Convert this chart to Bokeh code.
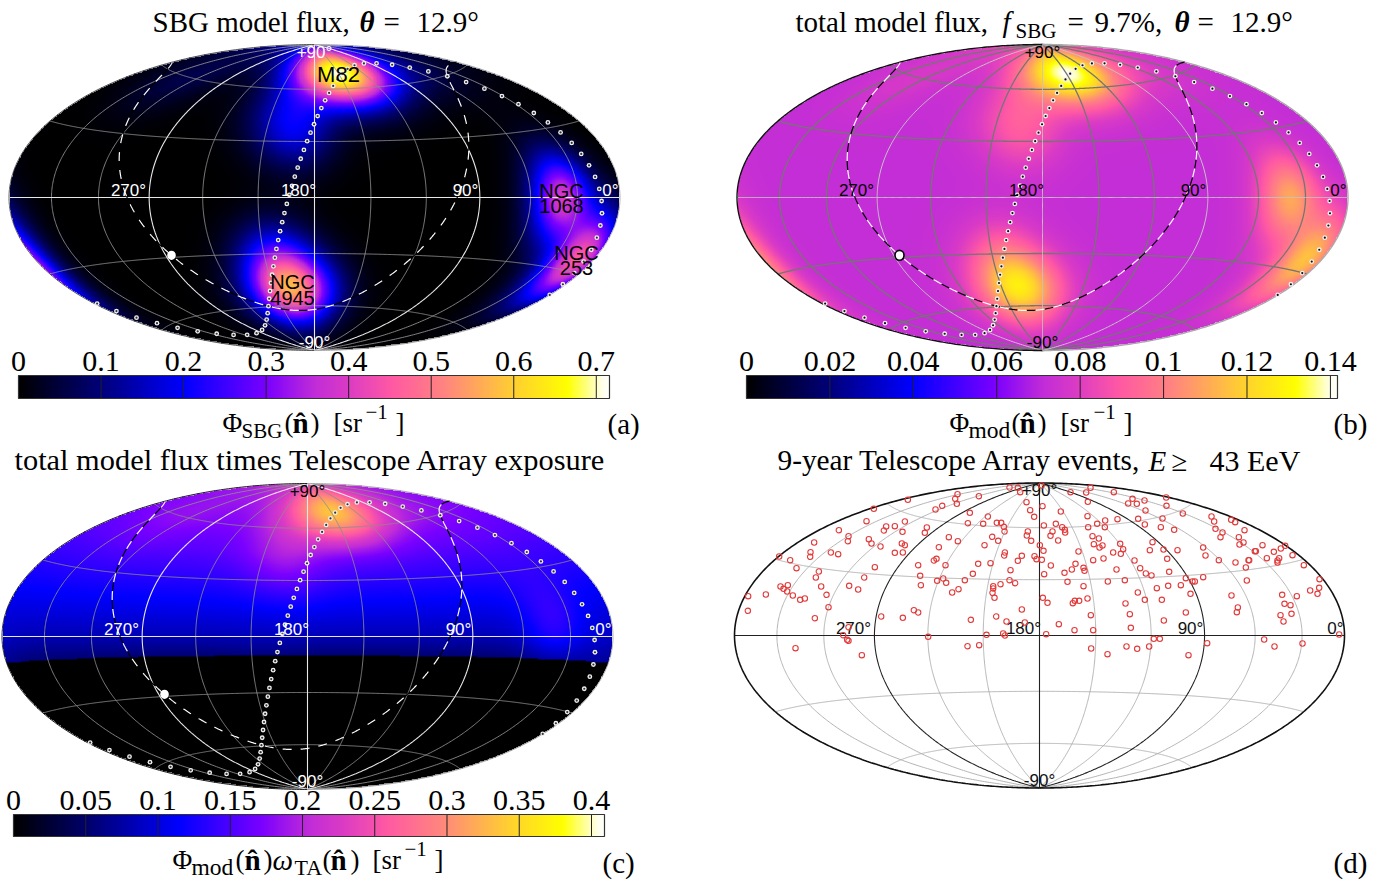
import numpy as np
from bokeh.embed import file_html
from bokeh.resources import INLINE
from bokeh.plotting import figure
from bokeh.models import Range1d, LinearColorMapper
from bokeh.core.properties import value

# ---------------- data ----------------
SOURCE_NAMES = ["M82", "NGC 4945", "NGC 253", "NGC 1068", "M83", "M51", "NGC 4631", "NGC 6946", "IC 342", "Circinus"]
SOURCE_RA = [148.97, 196.36, 11.89, 40.67, 204.25, 202.47, 190.53, 308.72, 56.70, 213.29]
SOURCE_DEC = [69.68, -49.47, -25.29, -0.01, -29.87, 47.20, 32.54, 60.15, 68.10, -65.34]
SOURCE_PEAK = [0.70, 0.50, 0.44, 0.38, 0.16, 0.10, 0.13, 0.06, 0.05, 0.05]
SMEARING_DEG = 13.6
F_SBG = 0.097
ISOTROPIC = 0.0719
EXPOSURE_DEC = [-10.0, 0.0, 15.0, 30.0, 45.0, 60.0, 90.0]
EXPOSURE_VAL = [0.75, 1.15, 1.5, 1.85, 2.15, 2.35, 2.45]
GAL_POLE = (192.86, 27.13)
GAL_CENTER = (266.40, -28.94)
SGAL_POLE = (283.75, 15.71)
SGAL_ORIGIN = (42.31, 59.53)

TICKS_A = [0, 0.1, 0.2, 0.3, 0.4, 0.5, 0.6, 0.7]
LABELS_A = ["0", "0.1", "0.2", "0.3", "0.4", "0.5", "0.6", "0.7"]
TICKS_B = [0, 0.02, 0.04, 0.06, 0.08, 0.1, 0.12, 0.14]
LABELS_B = ["0", "0.02", "0.04", "0.06", "0.08", "0.1", "0.12", "0.14"]
TICKS_C = [0, 0.05, 0.1, 0.15, 0.2, 0.25, 0.3, 0.35, 0.4]
LABELS_C = ["0", "0.05", "0.1", "0.15", "0.2", "0.25", "0.3", "0.35", "0.4"]
VMAX_A, VMAX_B, VMAX_C = 0.716, 0.1417, 0.409

CMAP_POS = [0, .14, .28, .42, .50, .56, .63, .72, .84, .93, .99, 1]
CMAP_COL = ["#000000", "#00007a", "#0000ff", "#7a00ff", "#c02cd8", "#dc3cc4", "#ff58a4", "#ff8480", "#ffd030", "#ffff00", "#fffff0", "#fffff8"]

# Event positions (d) as map-plane readings (left half, right half)
EVENTS_LEFT = [(957,51),(982,52),(989,65),(652,88),(801,71),(794,85),(799,100),(865,77),(755,106),(735,117),(550,115),(1008,95),(1019,119),(1031,139),(838,127),(892,138),
(832,158),(878,160),(919,157),(932,157),(940,169),(942,183),(528,152),(445,179),(474,197),(472,212),(371,216),(535,206),(543,219),(570,228),(587,168),(580,180),(613,167),(643,153),(636,184),(709,171),(703,187),(775,200),(802,212),(905,199),(923,211),(882,224),(1012,183),(1009,195),(1022,211),
(634,219),(643,224),(745,230),(613,247),(637,246),(360,245),(359,259),(421,246),(443,251),(266,258),(299,269),(318,293),(738,265),(730,270),(683,284),(765,284),(553,290),(385,303),(376,321),(521,321),(689,316),(943,246),(941,255),(994,256),(982,271),(1032,257),(1038,266),(900,278),(863,280),(960,299),(847,310),(823,329),(740,331),(758,324),(767,337),(691,344),(957,329),(974,338),(930,341),(908,347),(908,354),(906,367),(912,382),(785,366),(804,356),(476,346),(503,357),(392,348),(270,348),(279,355),(292,344),(290,363),(307,375),(329,388),(343,384),(408,373),(414,410),(173,377),(226,372),(172,421),(994,417),(373,443),(572,438),(637,442),(670,419),(683,426),(841,448),(917,438),(948,453),(1003,456),(474,470),(458,494),(470,508),(474,511),(713,499),(888,493),(938,489),(943,495),(315,533),(514,554),(831,527),(866,524)]
EVENTS_RIGHT = [(33,45),(180,52),(167,66),(120,65),(250,65),(172,94),(36,107),(91,123),(306,85),(293,99),(319,100),(342,90),(407,81),(408,106),(345,120),(457,129),(171,137),(40,165),(76,160),(95,170),(103,178),(104,186),(66,183),(60,196),(83,210),(173,170),(200,160),(224,150),(223,170),(261,146),(323,145),(343,162),(396,144),(391,170),(431,178),(543,138),(551,153),(555,175),(576,186),(570,200),(602,148),(614,155),(642,179),(625,200),(639,216),(627,222),(696,224),(764,226),(751,234),(730,244),(786,254),(673,242),(676,242),(186,197),(205,204),(190,221),(207,231),(216,225),(269,220),(278,236),(271,250),(248,246),(366,215),(358,239),(399,237),(441,239),(518,231),(525,255),(28,224),(39,241),(144,243),(34,268),(61,285),(135,280),(124,297),(159,292),(162,301),(102,307),(41,311),(188,269),(219,264),(258,297),(312,270),(329,293),(346,309),(363,315),(410,265),(416,304),(565,269),(615,276),(646,291),(654,269),(656,269),(709,263),(741,270),(741,276),(746,263),(820,284),(649,330),(518,320),(466,323),(486,333),(493,333),(111,334),(232,333),(283,329),(159,347),(379,353),(413,346),(451,344),(867,326),(866,352),(839,360),(861,370),(322,366),(343,388),(394,388),(480,370),(603,375),(755,373),(762,400),(780,404),(799,377),(37,382),(51,397),(127,398),(133,391),(146,391),(171,384),(285,399),(622,411),(619,425),(298,431),(181,434),(466,426),(750,434),(783,430),(759,453),(85,461),(132,479),(188,479),(301,472),(400,450),(47,491),(370,505),(388,505),(926,492),(182,534),(231,551),(288,528),(320,535),(356,528),(474,554),(530,518),(701,507),(732,528),(816,519)]

# ---------------- helpers ----------------
W, H = 1387, 880
R2 = np.sqrt(2.0)
SERIF = "Liberation Serif"
SANS = "Liberation Sans"


def hammer(ra, dec):
    lam = np.radians(180.0 - np.asarray(ra, float))
    lam = (lam + np.pi) % (2 * np.pi) - np.pi
    phi = np.radians(np.asarray(dec, float))
    d = np.sqrt(1 + np.cos(phi) * np.cos(lam / 2))
    return 2 * R2 * np.cos(phi) * np.sin(lam / 2) / d, R2 * np.sin(phi) / d


def hammer_inv(x, y):
    z = np.sqrt(np.clip(1 - (x / 4) ** 2 - (y / 2) ** 2, 0, None))
    lam = 2 * np.arctan2(z * x, 2 * (2 * z ** 2 - 1))
    phi = np.arcsin(np.clip(z * y, -1, 1))
    return 180.0 - np.degrees(lam), np.degrees(phi)


def unit(ra, dec):
    ra, dec = np.radians(ra), np.radians(dec)
    return np.stack([np.cos(dec) * np.cos(ra), np.cos(dec) * np.sin(ra), np.sin(dec)], axis=-1)


def great_circle(pole, origin, step):
    p = unit(*pole)
    u = unit(*origin)
    u = u - p * np.dot(u, p)
    u = u / np.linalg.norm(u)
    v = np.cross(p, u)
    t = np.radians(np.arange(0, 360, step))
    pts = np.outer(np.cos(t), u) + np.outer(np.sin(t), v)
    return np.degrees(np.arctan2(pts[:, 1], pts[:, 0])) % 360, np.degrees(np.arcsin(pts[:, 2]))


def split_wrap(x, y):
    k = int(np.argmax(np.abs(np.diff(np.r_[x, x[0]]))))
    x, y = np.roll(x, -(k + 1)), np.roll(y, -(k + 1))
    return x, y


# field on the Hammer plane
NX, NY = 1000, 500
gx, gy = np.meshgrid(np.linspace(-2 * R2, 2 * R2, NX), np.linspace(-R2, R2, NY))
inside = (gx / (2 * R2)) ** 2 + (gy / R2) ** 2 <= 1
gra, gdec = hammer_inv(gx, gy)
gvec = unit(gra, gdec)
kappa = 1.0 / np.radians(SMEARING_DEG) ** 2
phi_sbg = np.zeros_like(gx)
for ra_, dec_, pk in zip(SOURCE_RA, SOURCE_DEC, SOURCE_PEAK):
    phi_sbg += pk * np.exp(kappa * (gvec @ unit(ra_, dec_) - 1))
phi_mod = ISOTROPIC + F_SBG * phi_sbg
omega = np.where(gdec < EXPOSURE_DEC[0], 0.0, np.interp(gdec, EXPOSURE_DEC, EXPOSURE_VAL))
phi_ta = phi_mod * omega
for f in (phi_sbg, phi_mod, phi_ta):
    f[~inside] = np.nan


def hex2rgb(h):
    return np.array([int(h[i:i + 2], 16) for i in (1, 3, 5)], float)


rgb = np.array([hex2rgb(c) for c in CMAP_COL])
fr = np.linspace(0, 1, 512)
PALETTE = ["#%02x%02x%02x" % tuple(int(round(np.interp(t, CMAP_POS, rgb[:, i]))) for i in range(3)) for t in fr]

p = figure(width=W, height=H, output_backend="svg", toolbar_location=None,
           x_range=Range1d(0, W), y_range=Range1d(H, 0),
           x_axis_location=None, y_axis_location=None,
           min_border=0, min_border_left=0, min_border_right=0, min_border_top=0, min_border_bottom=0,
           outline_line_color=None)
p.grid.visible = False
p.background_fill_color = "white"

BASE = 0.31  # distance between the text anchor and the drawn baseline, in em


def T(x, y, s, size, font=SERIF, color="black", style="normal", align="left", rn=None):
    kw = {}
    if rn:
        kw["x_range_name"] = rn
    p.text([x], [y - BASE * size], text=[s], text_font=value(font), text_font_size=f"{size}px", text_color=color,
           text_font_style=style, text_align=align, text_baseline="alphabetic", **kw)


def add_map(name, cx, cy, hx, hy):
    xn, yn = name + "x", name + "y"
    sx = 2 * R2 / hx
    sy = R2 / hy
    p.extra_x_ranges[xn] = Range1d((0 - cx) * sx, (W - cx) * sx)
    p.extra_y_ranges[yn] = Range1d((cy - H) * sy, cy * sy)
    return dict(x_range_name=xn, y_range_name=yn)


def graticule(rng, minor, minor_w, major, major_w, edge_l, edge_r, edge_w):
    s = np.linspace(-89.99, 89.99, 361)
    ml = [], []
    for lon in [30, 60, 120, 150, 210, 240, 300, 330]:
        x, y = hammer(np.full_like(s, lon), s)
        ml[0].append(x); ml[1].append(y)
    ra = np.linspace(0.01, 359.99, 721)
    for lat in [-60, -30, 30, 60]:
        x, y = hammer(ra, np.full_like(ra, lat))
        o = np.argsort(x)
        ml[0].append(x[o]); ml[1].append(y[o])
    p.multi_line(ml[0], ml[1], line_color=minor, line_width=minor_w, **rng)
    mj = [], []
    for lon in [90, 180, 270]:
        x, y = hammer(np.full_like(s, lon), s)
        mj[0].append(x); mj[1].append(y)
    x, y = hammer(ra, np.zeros_like(ra))
    o = np.argsort(x)
    mj[0].append(x[o]); mj[1].append(y[o])
    p.multi_line(mj[0], mj[1], line_color=major, line_width=major_w, **rng)
    xl, yl = hammer(np.full_like(s, 359.99), s)
    xr, yr = hammer(np.full_like(s, 0.01), s)
    p.line(xl, yl, line_color=edge_l, line_width=edge_w, **rng)
    p.line(xr, yr, line_color=edge_r, line_width=edge_w, **rng)


GX, GY = hammer(*great_circle(GAL_POLE, GAL_CENTER, 0.5))
GX, GY = split_wrap(GX, GY)
SX, SY = hammer(*great_circle(SGAL_POLE, SGAL_ORIGIN, 5.0))
CX, CY = hammer(*GAL_CENTER)


def overlays(rng, dot_fill, gc_line, gc_size):
    p.line(GX, GY, line_color="black", line_width=1.2, line_dash="9 9", **rng)
    p.line(GX, GY, line_color="white", line_width=1.2, line_dash="9 9", line_dash_offset=9, **rng)
    p.scatter(SX, SY, size=4.8, fill_color="#f0f0f0", line_color=None, **rng)
    p.scatter(SX, SY, size=2.2, fill_color=dot_fill, line_color=None, **rng)
    p.ellipse([CX], [CY], width=gc_size * 2 * R2 / 305, height=gc_size * 1.1 * R2 / 153,
              fill_color="white", line_color=gc_line, line_width=1.6, **rng)


def colorbar(name, x0, x1, y0, y1, vmax, ticks, labels, mapper):
    xn = name + "c"
    k = (x1 - x0) / vmax
    p.extra_x_ranges[xn] = Range1d((0 - x0) / k, (W - x0) / k)
    p.image(image=[np.linspace(0, vmax, 512)[None, :]], x=0, y=y0, dw=vmax, dh=y1 - y0,
            color_mapper=mapper, x_range_name=xn)
    p.segment(ticks[1:], [y0] * (len(ticks) - 1), ticks[1:], [y1] * (len(ticks) - 1),
              line_color="#222222", line_width=1, x_range_name=xn)
    p.quad(left=[0], right=[vmax], top=[y0], bottom=[y1], fill_color=None, line_color="#333333", line_width=1.2,
           x_range_name=xn)
    for t, s in zip(ticks, labels):
        T(t, y0 - 5, s, 30, align="center", rn=xn)


def map_labels(cx, cy, c_top, c_bot, c_mid):
    T(cx, cy - 140, "+90°", 17, SANS, c_top, align="center")
    T(cx, cy + 150, "-90°", 17, SANS, c_bot, align="center")
    T(cx - 186, cy - 2, "270°", 17, SANS, c_mid, align="center")
    T(cx - 16, cy - 2, "180°", 17, SANS, c_mid, align="center")
    T(cx + 151, cy - 2, "90°", 17, SANS, c_mid, align="center")
    T(cx + 296, cy - 2, "0°", 17, SANS, c_mid, align="center")


# ---- panel (a)
ra_ = add_map("a", 314, 197, 305.5, 153)
map_a = LinearColorMapper(palette=PALETTE, low=0, high=VMAX_A, nan_color="rgba(0,0,0,0)")
p.image(image=[phi_sbg], x=-2 * R2, y=-R2, dw=4 * R2, dh=2 * R2, color_mapper=map_a, **ra_)
graticule(ra_, "#8f8f8f", 0.9, "#e8e8e8", 1.1, "#555555", "#aaaaaa", 1)
overlays(ra_, "#333333", "white", 7)
map_labels(314, 197, "white", "white", "white")
T(338, 81, "M82", 22, SANS, "black", align="center")
for x_, y_, s_ in [(561, 197, "NGC"), (561, 212, "1068"), (576, 259, "NGC"), (576, 274, "253"), (292, 288, "NGC"), (292, 304, "4945")]:
    T(x_, y_, s_, 20, SANS, "black", align="center")
colorbar("a", 18, 609, 375, 398, VMAX_A, TICKS_A, LABELS_A, map_a)
T(152, 30, "SBG model flux,", 29)
T(359, 30, "θ", 29, style="bold italic")
T(383, 30, "=", 29)
T(416, 30, "12.9°", 29)
T(222, 431, "Φ", 27); T(241, 437, "SBG", 21); T(284, 431, "(", 27); T(292, 431, "n̂", 29, style="bold"); T(310, 431, ")", 27)
T(333, 431, "[sr", 27); T(365, 418, "−1", 21); T(395, 431, "]", 27)
T(607, 432, "(a)", 29)

# ---- panel (b)
rb_ = add_map("b", 1042, 197, 305.5, 153)
map_b = LinearColorMapper(palette=PALETTE, low=0, high=VMAX_B, nan_color="rgba(0,0,0,0)")
p.image(image=[phi_mod], x=-2 * R2, y=-R2, dw=4 * R2, dh=2 * R2, color_mapper=map_b, **rb_)
graticule(rb_, "#757575", 1.3, "#c4c4c4", 1.0, "#111111", "#aaaaaa", 1.4)
overlays(rb_, "#111111", "black", 9)
map_labels(1042, 197, "black", "black", "black")
colorbar("b", 746, 1337, 375, 398, VMAX_B, TICKS_B, LABELS_B, map_b)
T(795, 30, "total model flux,", 29)
T(1002, 30, "f", 29, style="italic"); T(1015, 37, "SBG", 21); T(1067, 30, "=", 29)
T(1094, 30, "9.7%,", 29); T(1174, 30, "θ", 29, style="bold italic"); T(1197, 30, "=", 29); T(1230, 30, "12.9°", 29)
T(949, 431, "Φ", 27); T(968, 437, "mod", 23.5); T(1011, 431, "(", 27); T(1019, 431, "n̂", 29, style="bold"); T(1037, 431, ")", 27)
T(1060, 431, "[sr", 27); T(1093, 418, "−1", 21); T(1123, 431, "]", 27)
T(1333, 432, "(b)", 29)

# ---- panel (c)
rc_ = add_map("c", 307, 636, 305.5, 153)
map_c = LinearColorMapper(palette=PALETTE, low=0, high=VMAX_C, nan_color="rgba(0,0,0,0)")
p.image(image=[phi_ta], x=-2 * R2, y=-R2, dw=4 * R2, dh=2 * R2, color_mapper=map_c, **rc_)
graticule(rc_, "#8c8c8c", 0.9, "#e8e8e8", 1.1, "#222222", "#aaaaaa", 1)
overlays(rc_, "#333333", "white", 7)
map_labels(307, 636, "black", "white", "white")
colorbar("c", 13, 604, 814, 836, VMAX_C, TICKS_C, LABELS_C, map_c)
T(14, 469, "total model flux times Telescope Array exposure", 30.4)
T(172, 868, "Φ", 27); T(191, 874, "mod", 23.5); T(235, 868, "(", 27); T(244, 868, "n̂", 29, style="bold"); T(263, 868, ")", 27)
T(272, 868, "ω", 29, style="italic"); T(294, 874, "TA", 22); T(322, 868, "(", 27); T(330, 868, "n̂", 29, style="bold"); T(350, 868, ")", 27)
T(372, 868, "[sr", 27); T(404, 855, "−1", 21); T(434, 868, "]", 27)
T(602, 871, "(c)", 29)

# ---- panel (d)
rd_ = add_map("d", 1039, 635, 305, 152.5)
graticule(rd_, "#ababab", 0.9, "#222222", 1.1, "#111111", "#111111", 1.6)
map_labels(1039, 635, "#111111", "#111111", "#111111")
ex = [690 + a / 3 for a, _ in EVENTS_LEFT] + [1030 + a / 3 for a, _ in EVENTS_RIGHT]
ey = [470 + b / 3 for _, b in EVENTS_LEFT] + [470 + b / 3 for _, b in EVENTS_RIGHT]
ev_ra, ev_dec = hammer_inv((np.array(ex) - 1039) / 305 * 2 * R2, (635 - np.array(ey)) / 152.5 * R2)
evx, evy = hammer(ev_ra, ev_dec)
p.scatter(evx, evy, size=5.4, fill_color=None, line_color="#e23b3b", line_width=1.1, **rd_)
T(777, 469, "9-year Telescope Array events,", 29.3)
T(1148, 469, "E", 29, style="italic"); T(1171, 469, "≥", 29); T(1209, 469, "43 EeV", 30)
T(1333, 871, "(d)", 29)

open("out.html", "w").write(file_html(p, INLINE))
